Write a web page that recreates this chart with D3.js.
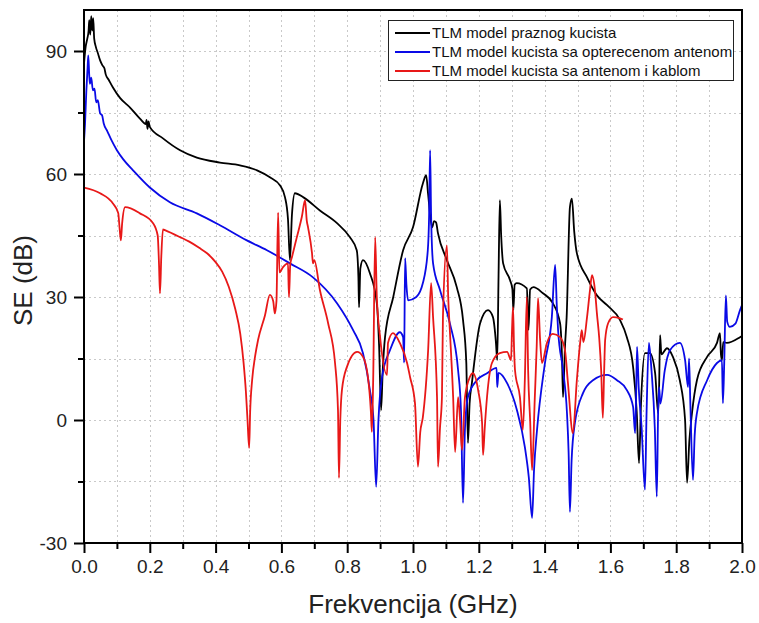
<!DOCTYPE html>
<html><head><meta charset="utf-8">
<script src="https://cdn.jsdelivr.net/npm/d3@7"></script>
<style>body{margin:0;background:#fff}svg{display:block;font-family:"Liberation Sans",Arial,sans-serif}</style>
</head><body><svg id="c" width="759" height="623"></svg>
<script>
// ---- data ----
const xMajorTicks = [0.0,0.2,0.4,0.6,0.8,1.0,1.2,1.4,1.6,1.8,2.0];
const xMinorTicks = [0.1,0.3,0.5,0.7,0.9,1.1,1.3,1.5,1.7,1.9];
const yMajorTicks = [-30,0,30,60,90];
const yMinorTicks = [-15,15,45,75];
const seriesNames = ["TLM model praznog kucista","TLM model kucista sa opterecenom antenom","TLM model kucista sa antenom i kablom"];
const seriesColors = ["#000000","#0a0ae6","#e81818"];
const xTitle = "Frekvencija (GHz)";
const yTitle = "SE (dB)";

// [frequency GHz, SE dB]
const emptyEnclosure = [[0,87],[0.005,91],[0.01,93],[0.014,95],[0.016,97.5],[0.019,94],[0.022,98.5],[0.025,95],[0.028,98],[0.031,93],[0.036,91],[0.042,89.5],[0.049,87.7],[0.056,86.5],[0.062,85.8],[0.066,84.3],[0.075,83],[0.088,81.1],[0.11,78.5],[0.14,76.2],[0.17,73.5],[0.188,72.2],[0.19,73.2],[0.193,71],[0.196,72.8],[0.2,71.5],[0.24,68.7],[0.292,65.8],[0.343,64],[0.413,62.8],[0.474,62.1],[0.526,60.9],[0.565,59.2],[0.596,57.2],[0.611,54.3],[0.62,49],[0.626,39],[0.632,50],[0.641,55.3],[0.667,54.3],[0.717,51.1],[0.769,48],[0.808,44.6],[0.829,41.4],[0.834,35],[0.836,27.5],[0.84,37],[0.848,39],[0.869,35.8],[0.89,28.5],[0.897,18],[0.903,2.4],[0.908,12],[0.915,20.2],[0.94,30],[0.97,41.4],[1.0,47],[1.03,57.7],[1.04,59.7],[1.046,55],[1.058,47],[1.064,48.5],[1.07,48.2],[1.076,45.5],[1.103,39],[1.133,32.4],[1.152,24.4],[1.162,14],[1.167,-5.6],[1.172,4],[1.179,9],[1.204,23.6],[1.228,26.8],[1.243,25.1],[1.252,19],[1.256,14.6],[1.26,35],[1.264,53.6],[1.268,45],[1.274,38.2],[1.295,34.1],[1.302,32],[1.305,26.8],[1.309,33],[1.315,33.4],[1.346,32.1],[1.351,22],[1.356,31.8],[1.366,32.4],[1.395,30.9],[1.425,28.5],[1.447,23.6],[1.453,15],[1.456,5.6],[1.462,18],[1.467,25.1],[1.477,51.9],[1.483,54],[1.49,46],[1.498,40.7],[1.529,34.8],[1.559,30.4],[1.59,28],[1.629,24.4],[1.65,20.2],[1.669,12.9],[1.68,2],[1.687,-10.5],[1.693,4],[1.705,16.3],[1.72,16.3],[1.736,11.4],[1.745,1.7],[1.748,8],[1.751,20.7],[1.755,16],[1.772,17.5],[1.79,15.4],[1.811,9.7],[1.827,0],[1.833,-15.3],[1.84,-5],[1.848,1.7],[1.863,9.7],[1.894,15.4],[1.924,18.8],[1.933,21.2],[1.936,16],[1.939,14.6],[1.943,19],[1.954,18.8],[1.994,20.2],[2.0,20.5]];

const loadedAntenna = [[0,68],[0.003,72],[0.007,80],[0.011,86],[0.013,88.9],[0.016,84],[0.018,82],[0.022,83.5],[0.027,80.4],[0.032,80.8],[0.037,77.5],[0.042,78],[0.049,74.8],[0.055,74.3],[0.06,72.3],[0.07,70.6],[0.085,68],[0.1,65.8],[0.12,63.5],[0.149,60.9],[0.2,56.7],[0.261,53.1],[0.343,50.4],[0.413,47.5],[0.495,43.8],[0.556,41.4],[0.626,38.2],[0.696,34.8],[0.769,28.5],[0.818,21.9],[0.848,16.3],[0.869,7.3],[0.88,0],[0.888,-16.3],[0.895,0],[0.906,10.5],[0.93,17],[0.96,21.4],[0.97,20.2],[0.973,14],[0.976,39.5],[0.98,33],[0.985,29.2],[1.01,30],[1.03,33.4],[1.045,41.4],[1.049,50],[1.052,65.8],[1.055,50],[1.061,38.2],[1.082,31.7],[1.112,23.6],[1.137,12.2],[1.146,2],[1.152,-20.2],[1.158,-2],[1.167,5.6],[1.194,9.7],[1.225,11.4],[1.254,12.7],[1.256,8],[1.26,11.5],[1.286,9],[1.316,2.4],[1.34,-6.6],[1.352,-14],[1.362,-23.9],[1.368,-12],[1.377,-2.4],[1.401,13.9],[1.422,25.1],[1.432,37.8],[1.437,28],[1.441,21.9],[1.456,12.2],[1.468,1.7],[1.473,-8],[1.477,-22.4],[1.482,-10],[1.492,-0.7],[1.517,6.6],[1.547,9.7],[1.59,11],[1.62,9.7],[1.65,7.3],[1.669,3.2],[1.675,-3.2],[1.678,5],[1.681,17.8],[1.686,8],[1.695,-2],[1.705,-17],[1.71,2],[1.717,18.8],[1.725,12],[1.735,-2],[1.741,-18.7],[1.745,1.7],[1.748,8],[1.752,4],[1.765,12],[1.781,17],[1.811,18.8],[1.827,14.6],[1.836,8],[1.839,15],[1.843,4],[1.851,-14.6],[1.856,-4],[1.863,1.7],[1.894,9.7],[1.924,13.9],[1.939,14.6],[1.942,4.1],[1.946,14],[1.951,30.4],[1.955,24],[1.963,22.7],[1.98,23.5],[1.994,26.8],[2.0,28]];

const antennaCable = [[0,56.7],[0.049,55.3],[0.088,52.8],[0.104,50.5],[0.108,47],[0.112,43.8],[0.116,48],[0.125,51.9],[0.17,50.4],[0.21,48],[0.224,45],[0.228,38],[0.231,30.9],[0.235,40],[0.24,46.5],[0.246,46.3],[0.292,44.6],[0.32,43.5],[0.35,42],[0.375,40.6],[0.4,38.5],[0.42,36.2],[0.44,32.5],[0.46,27],[0.475,21],[0.485,14],[0.492,7],[0.497,0],[0.502,-6.8],[0.505,2],[0.511,9.7],[0.52,15.5],[0.529,19.5],[0.55,25.5],[0.565,30.5],[0.575,29],[0.58,26],[0.585,29],[0.59,50.6],[0.594,36],[0.605,37.3],[0.62,38.2],[0.623,30],[0.627,38],[0.632,39.7],[0.647,44.6],[0.662,49.5],[0.672,53.6],[0.677,48.7],[0.681,47],[0.693,40.7],[0.696,38.2],[0.7,39],[0.717,31.7],[0.742,23.6],[0.763,13.9],[0.772,2.4],[0.775,-14.1],[0.779,0],[0.784,7.3],[0.799,12.9],[0.83,16.6],[0.848,15.4],[0.863,10.5],[0.872,2],[0.875,-2.9],[0.879,10],[0.885,44.6],[0.89,30],[0.9,20.2],[0.921,11],[0.924,18.8],[0.939,21.2],[0.96,18.8],[0.982,13.9],[0.991,10.5],[1.006,4.1],[1.015,-11.4],[1.022,-3],[1.03,0.7],[1.046,17],[1.055,33.4],[1.061,25.1],[1.073,5.6],[1.076,-11.4],[1.082,-2],[1.088,5.6],[1.091,25.1],[1.103,42.6],[1.107,30],[1.112,21.9],[1.122,5.6],[1.128,-7.8],[1.137,5.6],[1.143,0],[1.149,-7.3],[1.158,5.6],[1.173,10.5],[1.182,11.4],[1.198,7.3],[1.21,-0.7],[1.213,-8.5],[1.218,-2],[1.225,5.6],[1.24,13.9],[1.264,16.3],[1.286,16.6],[1.298,14.6],[1.301,22],[1.304,27.5],[1.307,18],[1.31,12.2],[1.325,5.6],[1.334,-2.4],[1.34,10],[1.346,30],[1.35,12],[1.356,0],[1.362,-12.2],[1.37,5],[1.376,18],[1.38,29.7],[1.386,20],[1.392,13.9],[1.407,18.8],[1.425,21],[1.447,20.2],[1.462,17],[1.471,9],[1.486,-3.2],[1.498,9.7],[1.508,18.8],[1.513,21.9],[1.518,19],[1.529,25.1],[1.538,31.7],[1.544,35.3],[1.553,31.7],[1.559,26],[1.566,20],[1.572,12],[1.577,0.5],[1.581,12],[1.584,19.5],[1.593,23.6],[1.608,25.1],[1.629,24.8],[1.638,24.5]];

const seriesData = [emptyEnclosure, loadedAntenna, antennaCable];

// ---- drawing ----
const svg = d3.select("#c");
const L = 84, R = 742, T = 10, B = 543;
const x = d3.scaleLinear().domain([0, 2]).range([L, R]);
const y = d3.scaleLinear().domain([-30, 100]).range([B, T]);

// grid
const grid = svg.append("g").attr("stroke", "#c9c9c9").attr("stroke-width", 1).attr("stroke-dasharray", "2,3");
grid.selectAll("line.gx").data(xMajorTicks.concat(xMinorTicks).filter(d => d > 0 && d < 2))
  .join("line").attr("x1", d => Math.round(x(d)) + 0.5).attr("x2", d => Math.round(x(d)) + 0.5)
  .attr("y1", T).attr("y2", B);
grid.selectAll("line.gy").data(yMajorTicks.concat(yMinorTicks).filter(d => d > -30))
  .join("line").attr("y1", d => Math.round(y(d)) + 0.5).attr("y2", d => Math.round(y(d)) + 0.5)
  .attr("x1", L).attr("x2", R);

// clip
svg.append("clipPath").attr("id", "clip").append("rect").attr("x", L).attr("y", T).attr("width", R - L).attr("height", B - T);

const line = d3.line().x(d => x(d[0])).y(d => y(d[1])).curve(d3.curveMonotoneX);
const plots = svg.append("g").attr("clip-path", "url(#clip)");
seriesData.forEach((s, i) => {
  plots.append("path").datum(s).attr("d", line).attr("fill", "none")
    .attr("stroke", seriesColors[i]).attr("stroke-width", 1.8).attr("stroke-linejoin", "round");
});

// axes
const fontSize = 19;
const xAx = svg.append("g").attr("transform", `translate(0,${B})`)
  .call(d3.axisBottom(x).tickValues(xMajorTicks).tickFormat(d3.format(".1f")).tickSize(10).tickPadding(7));
const xAxMinor = svg.append("g").attr("transform", `translate(0,${B})`)
  .call(d3.axisBottom(x).tickValues(xMinorTicks).tickFormat("").tickSize(6));
const yAx = svg.append("g").attr("transform", `translate(${L},0)`)
  .call(d3.axisLeft(y).tickValues(yMajorTicks).tickFormat(d => String(d)).tickSize(10).tickPadding(7));
const yAxMinor = svg.append("g").attr("transform", `translate(${L},0)`)
  .call(d3.axisLeft(y).tickValues(yMinorTicks).tickFormat("").tickSize(6));
[xAx, xAxMinor, yAx, yAxMinor].forEach(g => {
  g.select(".domain").remove();
  g.selectAll(".tick line").attr("stroke", "#000").attr("stroke-width", 2);
  g.selectAll("text").attr("font-size", fontSize).attr("font-family", "Liberation Sans, Arial, sans-serif").attr("fill", "#222");
});

// frame
svg.append("rect").attr("x", L).attr("y", T).attr("width", R - L).attr("height", B - T)
  .attr("fill", "none").attr("stroke", "#000").attr("stroke-width", 2);

// titles
svg.append("text").attr("x", (L + R) / 2).attr("y", 613).attr("text-anchor", "middle")
  .attr("font-size", 26).attr("fill", "#222").text(xTitle);
svg.append("text").attr("transform", `translate(32,${(T + B) / 2 + 4}) rotate(-90)`).attr("text-anchor", "middle")
  .attr("font-size", 26).attr("fill", "#222").text(yTitle);

// legend
const lg = svg.append("g");
lg.append("rect").attr("x", 388.5).attr("y", 20.5).attr("width", 345).attr("height", 60)
  .attr("fill", "#fff").attr("stroke", "#222").attr("stroke-width", 1);
seriesNames.forEach((n, i) => {
  const yy = 33 + i * 19;
  lg.append("line").attr("x1", 395).attr("x2", 430).attr("y1", yy).attr("y2", yy)
    .attr("stroke", seriesColors[i]).attr("stroke-width", 2);
  lg.append("text").attr("x", 432).attr("y", yy).attr("dy", "0.35em").attr("font-size", 15)
    .attr("fill", "#111").text(n);
});
</script></body></html>
